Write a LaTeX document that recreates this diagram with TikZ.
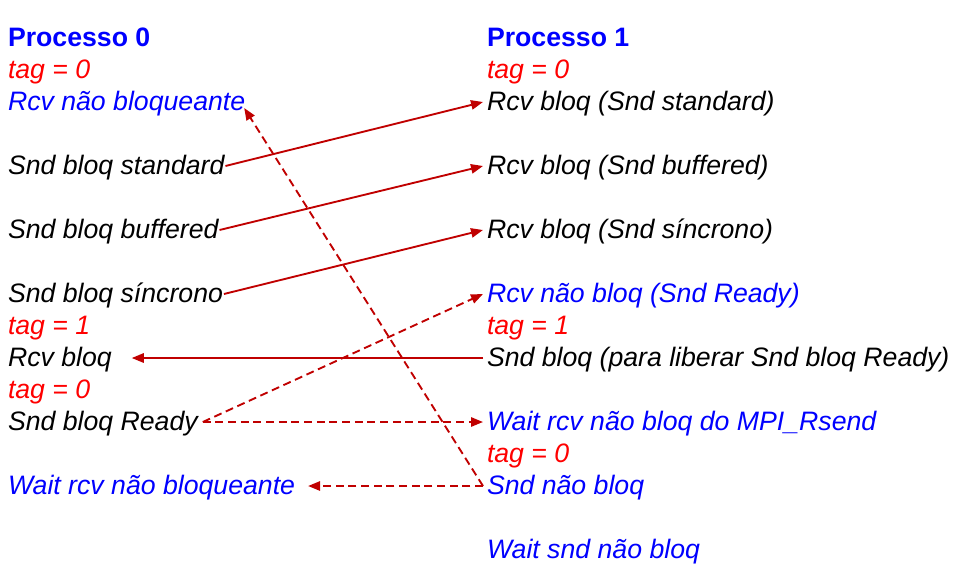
\documentclass[tikz,border=0pt]{standalone}
\usepackage{fontspec}
\setmainfont{Liberation Sans}
\usetikzlibrary{arrows.meta,calc}
\definecolor{msgred}{HTML}{C00000}
\tikzset{
  txt/.style={anchor=base west, inner sep=0pt, outer sep=0pt, text height=15pt, text depth=3pt,
    font=\fontsize{20}{24}\selectfont\itshape},
  hdr/.style={txt, text=blue, font=\fontsize{20}{24}\selectfont\bfseries},
  tg/.style={txt, text=red},
  nb/.style={txt, text=blue},
  msg/.style={msgred, line width=1.4pt, -{Triangle[length=9pt,width=7pt]}},
  dmsg/.style={msg, dash pattern=on 6pt off 3.5pt}
}
\begin{document}
\begin{tikzpicture}[x=0.75pt, y=-0.75pt]
  \useasboundingbox (0,0) rectangle (971,578);

  % processo 0
  \node[hdr] (p0) at (8,46) {Processo 0};
  \node[tg] (p0tag0) at (8,78) {tag = 0};
  \node[nb] (rnbloq) at (8,110) {Rcv não bloqueante};
  \node[txt] (sstd) at (8,174) {Snd bloq standard};
  \node[txt] (sbuf) at (8,238) {Snd bloq buffered};
  \node[txt] (ssinc) at (8,302) {Snd bloq síncrono};
  \node[tg] (p0tag1) at (8,334) {tag = 1};
  \node[txt] (rbloq) at (8,366) {Rcv bloq};
  \node[tg] (p0tag0b) at (8,398) {tag = 0};
  \node[txt] (sready) at (8,430) {Snd bloq Ready};
  \node[nb] (wrnb) at (8,494) {Wait rcv não bloqueante};

  % processo 1
  \node[hdr] (p1) at (487,46) {Processo 1};
  \node[tg] (p1tag0) at (487,78) {tag = 0};
  \node[txt] (rstd) at (487,110) {Rcv bloq (Snd standard)};
  \node[txt] (rbuf) at (487,174) {Rcv bloq (Snd buffered)};
  \node[txt] (rsinc) at (487,238) {Rcv bloq (Snd síncrono)};
  \node[nb] (rready) at (487,302) {Rcv não bloq (Snd Ready)};
  \node[tg] (p1tag1) at (487,334) {tag = 1};
  \node[txt] (slib) at (487,366) {Snd bloq (para liberar Snd bloq Ready)};
  \node[nb] (wrsend) at (487,430) {Wait rcv não bloq do MPI\_Rsend};
  \node[tg] (p1tag0b) at (487,462) {tag = 0};
  \node[nb] (snbloq) at (487,494) {Snd não bloq};
  \node[nb] (wsnb) at (487,558) {Wait snd não bloq};

  \draw[msg] ($(sstd.east)+(1,0)$) -- ($(rstd.west)+(-4,0)$);
  \draw[msg] ($(sbuf.east)+(1,0)$) -- ($(rbuf.west)+(-4,0)$);
  \draw[msg] ($(ssinc.east)+(1,0)$) -- ($(rsinc.west)+(-4,0)$);
  \draw[msg] ($(slib.west)+(-4,0)$) -- ($(rbloq.east)+(20,0)$);

  \draw[dmsg] ($(sready.east)+(5,0)$) -- ($(rready.west)+(-4,0)$);
  \draw[dmsg] ($(sready.east)+(5,0)$) -- ($(wrsend.west)+(-4,0)$);
  \draw[dmsg] ($(snbloq.west)+(-4,0)$) -- ($(wrnb.east)+(13,0)$);
  \draw[dmsg] ($(snbloq.west)+(-4,0)$) -- ($(rnbloq.south east)+(-1,-6)$);
\end{tikzpicture}
\end{document}
